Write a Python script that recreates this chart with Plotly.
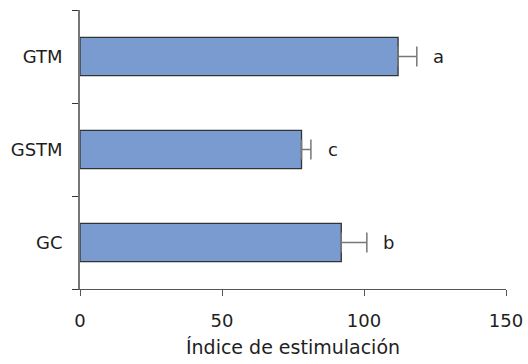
import plotly.graph_objects as go

# Stimulation index by group (mean and upper error)
groups = ["GC", "GSTM", "GTM"]
means = [92, 78, 112]
errors = [9, 3.3, 6.6]
letters = ["b", "c", "a"]

FONT = "'DejaVu Sans', sans-serif"
TEXT = "#1e1e1e"

fig = go.Figure()
fig.add_trace(go.Bar(
    y=groups,
    x=means,
    orientation="h",
    width=0.41,
    marker=dict(color="#7a9bd0", line=dict(color="#333333", width=1.3)),
    error_x=dict(type="data", array=errors, symmetric=False, arrayminus=[0] * 3,
                 color="#777777", thickness=1.5, width=10),
    showlegend=False,
    hoverinfo="skip",
))

# significance letters placed just past each error bar
for g, m, e, lab in zip(groups, means, errors, letters):
    fig.add_annotation(x=m + e, y=g, xref="x", yref="y", text=lab,
                       showarrow=False, xshift=22, xanchor="center",
                       font=dict(family=FONT, size=18, color=TEXT))

fig.update_layout(
    width=528, height=364,
    margin=dict(l=80, r=22, t=10, b=75, autoexpand=False),
    plot_bgcolor="white", paper_bgcolor="white",
    font=dict(family=FONT, size=18, color=TEXT),
    bargap=0.5,
)
fig.update_xaxes(
    range=[0, 150], tickvals=[0, 50, 100, 150],
    showline=True, linecolor="#555555", linewidth=1.3,
    ticks="outside", ticklen=6, tickcolor="#555555", tickwidth=1.3,
    showgrid=False, zeroline=False, automargin=False,
    title=dict(text="Índice de estimulación", font=dict(size=19, color=TEXT), standoff=10),
    ticklabelstandoff=9,
)
fig.update_yaxes(
    range=[-0.5, 2.5], categoryorder="array", categoryarray=groups,
    showline=True, linecolor="#777777", linewidth=1.5,
    ticks="outside", ticklen=6, tickcolor="#333333", tickwidth=1.3,
    tickson="boundaries", ticklabelstandoff=12,
    showgrid=False, zeroline=False, automargin=False,
)

fig.write_html("out.html")
